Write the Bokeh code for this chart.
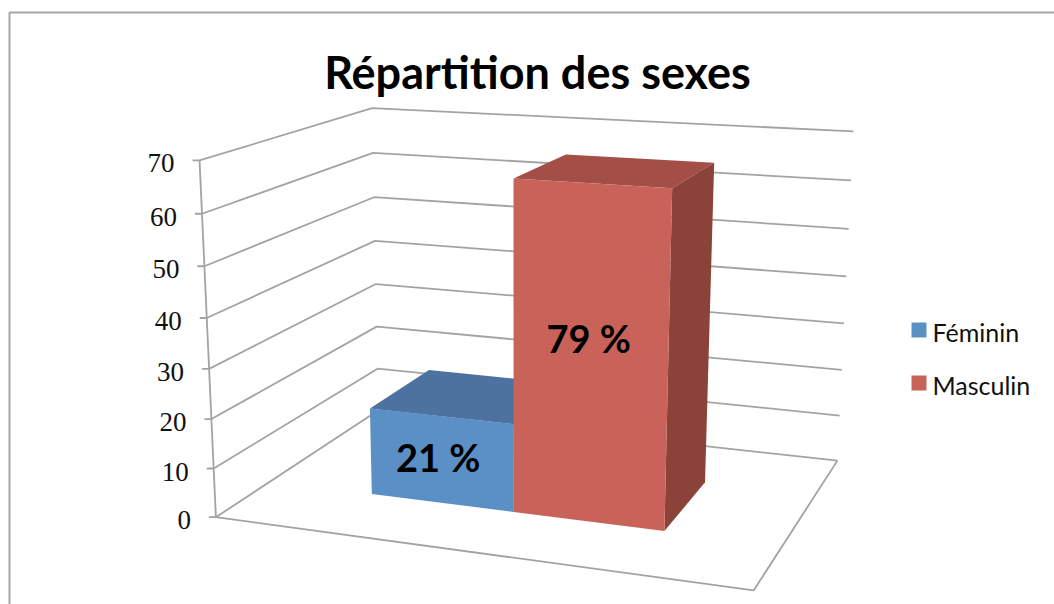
import numpy as np
from bokeh.plotting import figure
from bokeh.models import Range1d
from bokeh.core.properties import value
from bokeh.embed import file_html
from bokeh.resources import INLINE

# --- data ---
title_text = "Répartition des sexes"
series = ["Féminin", "Masculin"]
values = [18, 66]
point_labels = ["21 %", "79 %"]
y_ticks = [0, 10, 20, 30, 40, 50, 60, 70]
y_max = 70

# --- style ---
front = ["#5B90C6", "#C9635A"]
top = ["#4D729F", "#A34F47"]
side = ["#47698F", "#8B4239"]
grid = "#A3A3A3"
sans = value("Lato")
serif = value("Liberation Serif")
label_nudge = [(-3, -3), (-1, -19)]

# --- 3D projection: (x, depth, value) -> picture pixels, calibrated on the box's corners
anchors = [((0, 0, 0), (216, 517)), ((0, 0, 70), (199, 160)), ((0, 1, 0), (378, 410)),
           ((0, 1, 70), (372, 108)), ((1, 1, 0), (837, 460)), ((1, 1, 70), (853, 131)),
           ((1, 0, 0), (753, 590)), ((0, 1, 10), (377, 368)), ((0, 1, 40), (374, 240)),
           ((1, 1, 40), (846, 276)), ((1, 1, 10), (839, 415)), ((0, 0, 40), (206, 317)),
           ((0, 0, 10), (213, 468))]
rows = []
for (x, d, v), (X, Y) in anchors:
    q = [x, d, v / y_max, 1]
    rows.append(q + [0] * 4 + [-X * c for c in q])
    rows.append([0] * 4 + q + [-Y * c for c in q])
M = np.linalg.svd(np.array(rows, float))[2][-1].reshape(3, 4)


def pr(x, d, v):
    h = M @ np.array([x, d, v / y_max, 1.0])
    return h[0] / h[2], h[1] / h[2]


def poly(*pts):
    xy = [pr(*p) for p in pts]
    return [a for a, _ in xy], [b for _, b in xy]


W, H = 1054, 604
p = figure(width=W, height=H, x_range=Range1d(0, W), y_range=Range1d(H, 0),
           output_backend="svg", toolbar_location=None, min_border=0,
           outline_line_color=None, background_fill_color="white", border_fill_color="white")
p.axis.visible = False
p.grid.visible = False

# chart frame (only top and left edges fall in the crop)
p.line([9, 9, 1054], [604, 12, 12], line_color="#A6A6A6", line_width=2)

# gridlines on the side and back walls
for t in y_ticks:
    xs, ys = poly((0, 0, t), (0, 1, t), (1, 1, t))
    p.line(xs, ys, line_color=grid, line_width=1.8)
    x0, y0 = pr(0, 0, t)
    p.line([x0 - 7, x0], [y0, y0], line_color=grid, line_width=1.8)
    p.text([x0 - 25], [y0 + 3], text=[str(t)], text_font=serif, text_font_size="27px",
           text_align="right", text_baseline="middle", text_color="#111111")

# axis and floor edges
xs, ys = poly((0, 0, 0), (0, 0, y_max))
p.line(xs, ys, line_color=grid, line_width=1.8)
xs, ys = poly((0, 0, 0), (1, 0, 0), (1, 1, 0))
p.line(xs, ys, line_color=grid, line_width=1.8)

# bars
edges = [0.214, 0.5, 0.787]
d0, d1 = 0.30, 0.695
for i in range(2):
    a, b, h = edges[i], edges[i + 1], values[i]
    xs, ys = poly((a, d0, h), (a, d1, h), (b, d1, h), (b, d0, h))
    p.patch(xs, ys, fill_color=top[i], line_color=None)
    xs, ys = poly((b, d0, 0), (b, d1, 0), (b, d1, h), (b, d0, h))
    p.patch(xs, ys, fill_color=side[i], line_color=None)
    xs, ys = poly((a, d0, 0), (b, d0, 0), (b, d0, h), (a, d0, h))
    p.patch(xs, ys, fill_color=front[i], line_color=None)
    cx, cy = pr((a + b) / 2, d0, h / 2)
    p.text([cx + label_nudge[i][0]], [cy + label_nudge[i][1]], text=[point_labels[i]],
           text_font=sans, text_font_style="bold", text_font_size="38px",
           text_align="center", text_baseline="middle", text_color="black")

# title
p.text([537], [71], text=[title_text], text_font=sans, text_font_style="bold",
       text_font_size="45px", text_align="center", text_baseline="middle", text_color="black")

# legend
for i, name in enumerate(series):
    yc = 329.5 + 53 * i
    p.rect([918.5], [yc], width=15, height=15, fill_color=front[i], line_color=None)
    p.text([932], [yc + 2], text=[name], text_font=sans, text_font_size="25px",
           text_align="left", text_baseline="middle", text_color="#111111")

open("out.html", "w").write(file_html(p, INLINE))
